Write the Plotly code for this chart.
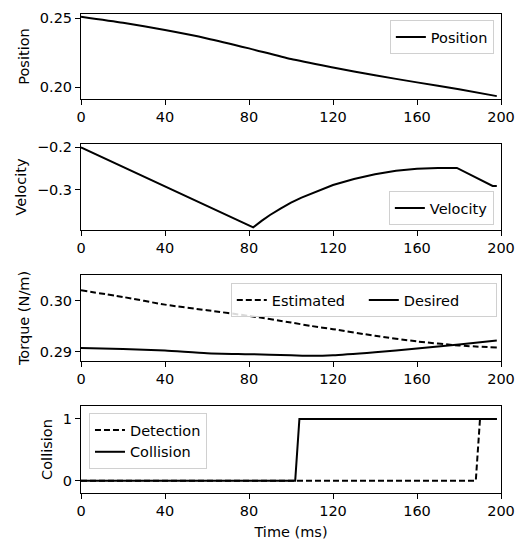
import plotly.graph_objects as go

# ---- data ----
t_pos = [0, 20, 40, 60, 80, 100, 120, 140, 160, 180, 198]
position = [0.2510, 0.2466, 0.2413, 0.2353, 0.2281, 0.2204, 0.2144, 0.2087, 0.2036, 0.1986, 0.1937]

t_vel = [0, 82, 86, 90, 95, 100, 105, 110, 115, 120, 130, 140, 150, 160, 170, 179, 196, 198]
velocity = [-0.200, -0.3875, -0.3725, -0.3586, -0.3435, -0.3297, -0.3180, -0.3078, -0.2975,
            -0.2883, -0.2742, -0.2633, -0.2550, -0.2500, -0.2484, -0.2484, -0.2906, -0.2906]

t_torque = [0, 20, 40, 60, 80, 100, 110, 120, 140, 160, 180, 198]
torque_est = [0.3020, 0.3007, 0.2992, 0.2981, 0.2970, 0.2957, 0.2950, 0.2944, 0.2931, 0.2920, 0.2912, 0.2908]
torque_des = [0.2907, 0.2905, 0.2902, 0.2897, 0.2895, 0.2893, 0.2892, 0.2893, 0.2899, 0.2906, 0.2914, 0.2922]

t_det = [0, 188, 190, 198]
detection = [0, 0, 1, 1]
t_col = [0, 102, 104, 198]
collision = [0, 0, 1, 1]

x_ticks = [0, 40, 80, 120, 160, 200]

FONT = "DejaVu Sans"
FS = 14.5
fig = go.Figure()

line_solid = dict(color="black", width=2)
line_smooth = dict(color="black", width=2, shape="spline", smoothing=0.6)
line_dash = dict(color="black", width=2, dash="6px,3px")
line_dash_smooth = dict(color="black", width=2, dash="6px,3px", shape="spline", smoothing=0.6)

fig.add_trace(go.Scatter(x=t_pos, y=position, mode="lines", name="Position",
                         line=line_smooth, xaxis="x", yaxis="y", legend="legend"))
fig.add_trace(go.Scatter(x=t_vel, y=velocity, mode="lines", name="Velocity",
                         line=line_solid, xaxis="x2", yaxis="y2", legend="legend2"))
fig.add_trace(go.Scatter(x=t_torque, y=torque_est, mode="lines", name="Estimated",
                         line=line_dash_smooth, xaxis="x3", yaxis="y3", legend="legend3"))
fig.add_trace(go.Scatter(x=t_torque, y=torque_des, mode="lines", name="Desired",
                         line=line_smooth, xaxis="x3", yaxis="y3", legend="legend3"))
fig.add_trace(go.Scatter(x=t_det, y=detection, mode="lines", name="Detection",
                         line=line_dash, xaxis="x4", yaxis="y4", legend="legend4"))
fig.add_trace(go.Scatter(x=t_col, y=collision, mode="lines", name="Collision",
                         line=line_solid, xaxis="x4", yaxis="y4", legend="legend4"))

axis_common = dict(showline=True, linecolor="black", linewidth=1, mirror=True,
                   ticks="outside", ticklen=5, tickcolor="black", tickwidth=1,
                   showgrid=False, zeroline=False, automargin=False,
                   tickfont=dict(family=FONT, size=FS, color="black"))

domains = [[0.8225, 1.0], [0.5491, 0.7286], [0.2756, 0.4551], [0.0, 0.1816]]
yranges = [[0.1916, 0.2529], [-0.3937, -0.1923], [0.28817, 0.3050], [-0.2, 1.21]]
ytitles = ["Position", "Velocity", "Torque (N/m)", "Collision"]
ytickvals = [[0.20, 0.25], [-0.3, -0.2], [0.29, 0.30], [0, 1]]
ytickfmt = [".2f", ".1f", ".2f", "d"]

layout = {}
for i in range(4):
    sx = "" if i == 0 else str(i + 1)
    xa = dict(axis_common, domain=[0, 1], range=[0, 200], tickvals=x_ticks,
              anchor="y" + sx)
    if i == 3:
        xa["title"] = dict(text="Time (ms)", font=dict(family=FONT, size=FS, color="black"),
                           standoff=8)
    ya = dict(axis_common, domain=domains[i], range=yranges[i], tickvals=ytickvals[i],
              tickformat=ytickfmt[i], anchor="x" + sx,
              title=dict(text=ytitles[i], font=dict(family=FONT, size=FS, color="black"),
                         standoff=6))
    layout["xaxis" + sx] = xa
    layout["yaxis" + sx] = ya

leg_common = dict(bgcolor="rgba(255,255,255,0.85)", bordercolor="#d0d0d0", borderwidth=1,
                  font=dict(family=FONT, size=FS, color="black"), xref="paper", yref="paper",
                  tracegroupgap=0, itemwidth=30)

layout["legend"] = dict(leg_common, x=0.983, y=0.9875, xanchor="right", yanchor="top")
layout["legend2"] = dict(leg_common, x=0.983, y=0.5595, xanchor="right", yanchor="bottom")
layout["legend3"] = dict(leg_common, x=0.990, y=0.4384, xanchor="right", yanchor="top",
                         orientation="h", entrywidth=87)
layout["legend4"] = dict(leg_common, x=0.019, y=0.167, xanchor="left", yanchor="top")

fig.update_layout(**layout)
# the page body adds an 8px offset; margins compensate so the plot sits where the reference has it
fig.update_layout(width=526, height=540, margin=dict(l=73, r=33, t=6, b=55, autoexpand=False),
                  paper_bgcolor="white", plot_bgcolor="white", showlegend=True,
                  font=dict(family=FONT, size=FS, color="black"))

fig.write_html("out.html")
